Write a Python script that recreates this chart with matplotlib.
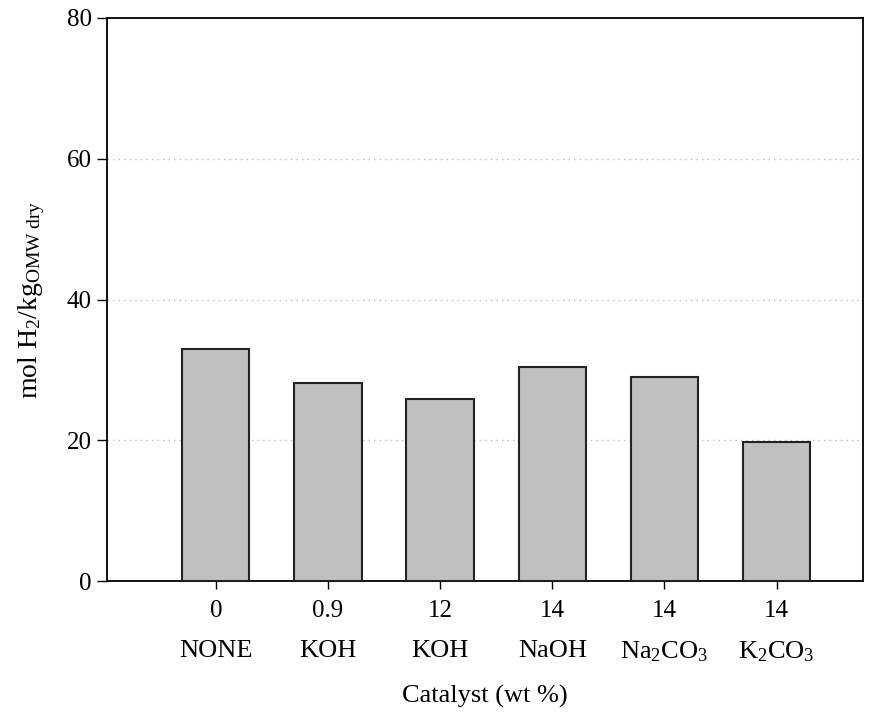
import matplotlib
matplotlib.use("Agg")
import matplotlib.pyplot as plt
import matplotlib.transforms as mtransforms

# -------------------------
# DATA
# -------------------------
loadings = ["0", "0.9", "12", "14", "14", "14"]
catalysts = ["NONE", "KOH", "KOH", "NaOH", "Na$_2$CO$_3$", "K$_2$CO$_3$"]
h2_yield = [32.9, 28.2, 25.9, 30.4, 29.0, 19.7]
y_ticks = [0, 20, 40, 60, 80]

# -------------------------
# STYLE
# -------------------------
plt.rcParams["font.family"] = ["Liberation Serif", "DejaVu Serif"]
plt.rcParams["mathtext.fontset"] = "custom"
plt.rcParams["mathtext.rm"] = "Liberation Serif"
plt.rcParams["mathtext.it"] = "Liberation Serif:italic"
plt.rcParams["mathtext.bf"] = "Liberation Serif:bold"

fig = plt.figure(figsize=(8.77, 7.18), dpi=100)
ax = fig.add_axes([107 / 877, 1 - 581 / 718, (863 - 107) / 877, (581 - 18) / 718])

x = list(range(len(h2_yield)))
ax.bar(x, h2_yield, width=0.6, color="#c0c0c0", edgecolor="#222222",
       linewidth=1.5, zorder=3)

# dotted grid at the inner y ticks
for yv in y_ticks[1:-1]:
    ax.axhline(yv, color="#bbbbbb", linestyle=(0, (1, 3)), linewidth=1, zorder=1)

ax.set_xlim(-0.97, 5.77)
ax.set_ylim(0, 80)
ax.set_yticks(y_ticks)
ax.set_xticks(x)
ax.set_xticklabels(loadings)
ax.tick_params(axis="both", direction="out", labelsize=18, width=1, colors="black")
ax.tick_params(axis="y", length=7, pad=4)
ax.tick_params(axis="x", length=6, pad=8)
for sp in ax.spines.values():
    sp.set_linewidth(1.3)

# catalyst names as a second label row
trans = mtransforms.blended_transform_factory(ax.transData, ax.transAxes)
for xi, name in zip(x, catalysts):
    ax.text(xi, -0.125, name, transform=trans, ha="center", va="center",
            fontsize=19)

ax.set_xlabel("Catalyst (wt %)", fontsize=19, labelpad=45)
ax.set_ylabel("mol H$_2$/kg$_{\\mathrm{OMW\\ dry}}$", fontsize=20, labelpad=14)

fig.savefig("out.png", dpi=100)
